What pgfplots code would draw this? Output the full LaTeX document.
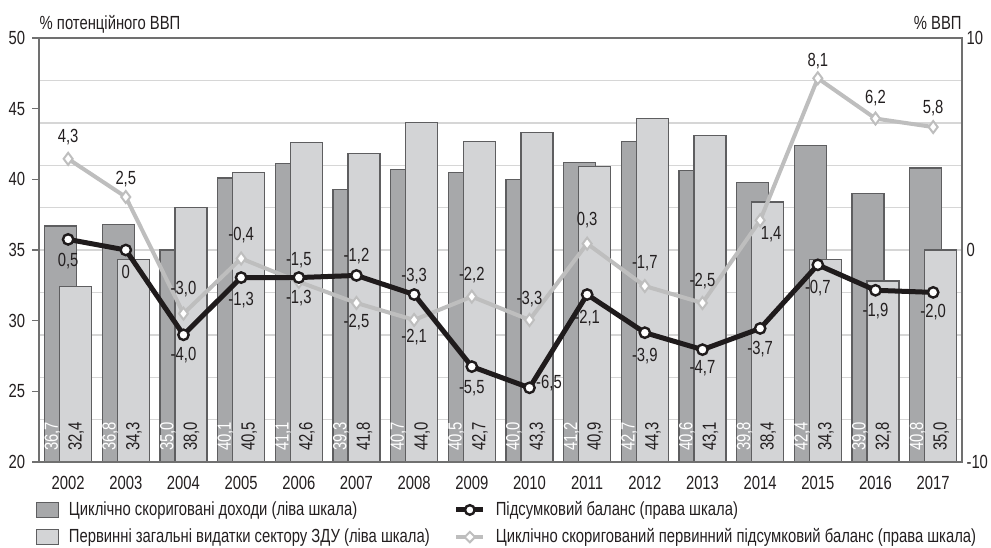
\documentclass[border=0pt]{standalone}
\usepackage{fontspec}
\setmainfont{Liberation Sans}[FakeStretch=0.78]
\usepackage{pgfplots}
\pgfplotsset{compat=1.18}
\usepackage{pgfplotstable}

\definecolor{darkbar}{HTML}{A7A8AA}
\definecolor{lightbar}{HTML}{D3D4D6}
\definecolor{baredge}{HTML}{5E5E60}
\definecolor{gridc}{HTML}{D6D6D6}
\definecolor{axisc}{HTML}{707070}
\definecolor{txt}{HTML}{231F20}
\definecolor{balc}{HTML}{1F1B1C}
\definecolor{cabc}{HTML}{BEBEBE}

\pgfplotstableread{
x year rev exp revl expl
0 2002 36.7 32.4 36,7 32,4
1 2003 36.8 34.3 36,8 34,3
2 2004 35.0 38.0 35,0 38,0
3 2005 40.1 40.5 40,1 40,5
4 2006 41.1 42.6 41,1 42,6
5 2007 39.3 41.8 39,3 41,8
6 2008 40.7 44.0 40,7 44,0
7 2009 40.5 42.7 40,5 42,7
8 2010 40.0 43.3 40,0 43,3
9 2011 41.2 40.9 41,2 40,9
10 2012 42.7 44.3 42,7 44,3
11 2013 40.6 43.1 40,6 43,1
12 2014 39.8 38.4 39,8 38,4
13 2015 42.4 34.3 42,4 34,3
14 2016 39.0 32.8 39,0 32,8
15 2017 40.8 35.0 40,8 35,0
}\bars

\pgfplotstableread{
x bal cab
0 0.5 4.3
1 0.0 2.5
2 -4.0 -3.0
3 -1.3 -0.4
4 -1.3 -1.5
5 -1.2 -2.5
6 -2.1 -3.3
7 -5.5 -2.2
8 -6.5 -3.3
9 -2.1 0.3
10 -3.9 -1.7
11 -4.7 -2.5
12 -3.7 1.4
13 -0.7 8.1
14 -1.9 6.2
15 -2.0 5.8
}\lines

\pgfplotstableread{
x y lab dx dy
0 0.5 0,5 0 -11
1 0 0 0 -11
2 -4.0 -4,0 0 -10
3 -1.3 -1,3 0 -11.5
4 -1.3 -1,3 0 -10.5
5 -1.2 -1,2 0 9.5
6 -2.1 -3,3 0 9
7 -5.5 -5,5 0 -11
8 -6.5 -6,5 9.75 2.5
9 -2.1 -2,1 0 -12
10 -3.9 -3,9 0 -11.5
11 -4.7 -4,7 0 -9.5
12 -3.7 -3,7 0 -10.5
13 -0.7 -0,7 0 -11.5
14 -1.9 -1,9 0 -10.5
15 -2.0 -2,0 0 -10
0 4.3 4,3 0 11
1 2.5 2,5 0 9
2 -3.0 -3,0 0 12.5
3 -0.4 -0,4 0 11.5
4 -1.5 -1,5 0 11
5 -2.5 -2,5 0 -9.5
6 -3.3 -2,1 0 -8.5
7 -2.2 -2,2 0 11
8 -3.3 -3,3 0 10.5
9 0.3 0,3 0 12
10 -1.7 -1,7 0 11.5
11 -2.5 -2,5 0 11
12 1.4 1,4 5.5 -7
13 8.1 8,1 0 8.5
14 6.2 6,2 0 10
15 5.8 5,8 0 9.5
}\labs

\begin{document}
\begin{tikzpicture}[font=\fontsize{9.5}{11.4}\selectfont]
\path[use as bounding box] (-19.65pt,-42.5pt) rectangle (475.85pt,231pt);
\begin{axis}[
  at={(0,0)}, anchor=south west,
  scale only axis, width=461.35pt, height=212pt,
  xmin=-0.5, xmax=15.5, ymin=20, ymax=50,
  xtick={0,...,15},
  xticklabels={2002,2003,2004,2005,2006,2007,2008,2009,2010,2011,2012,2013,2014,2015,2016,2017},
  ytick={20,25,30,35,40,45,50},
  yticklabels={20,25,30,35,40,45,50},
  ytick pos=left, tick align=outside, major tick length=3.5pt,
  y tick style={draw=axisc, line width=0.8pt},
  x tick style={draw=none},
  tick label style={text=txt},
  axis line style={draw=axisc, line width=1pt},
  extra y ticks={23,26,29,32,35,38,41,44,47},
  extra y tick labels={},
  extra y tick style={grid=major, major grid style={draw=gridc, line width=0.7pt}, major tick length=0pt},
]
\addplot[ybar, bar width=0.555, bar shift=-0.13, fill=darkbar, draw=baredge, line width=0.6pt]
  table[x=x, y=rev] \bars;
\addplot[ybar, bar width=0.555, bar shift=0.13, fill=lightbar, draw=baredge, line width=0.6pt]
  table[x=x, y=exp] \bars;
\addplot[draw=none, nodes near coords, point meta=explicit symbolic,
  nodes near coords style={rotate=90, anchor=west, inner xsep=5.5pt, text=white}]
  table[x expr=\thisrow{x}-0.27, y expr=20, meta=revl] \bars;
\addplot[draw=none, nodes near coords, point meta=explicit symbolic,
  nodes near coords style={rotate=90, anchor=west, inner xsep=5.5pt, text=txt}]
  table[x expr=\thisrow{x}+0.14, y expr=20, meta=expl] \bars;
\end{axis}

\begin{axis}[
  at={(0,0)}, anchor=south west,
  scale only axis, width=461.35pt, height=212pt,
  xmin=-0.5, xmax=15.5, ymin=-10, ymax=10,
  clip=false,
  xtick=\empty,
  ytick={-10,0,10}, yticklabels={-10,0,10},
  ytick pos=right, yticklabel pos=right,
  major tick length=0pt,
  yticklabel style={xshift=-1.25pt, text=txt},
  axis line style={draw=axisc, line width=1pt},
  legend columns=2,
  legend cell align=left,
  legend style={at={(axis description cs:0,0)}, anchor=north west,
    xshift=-5pt, yshift=-15.5pt, draw=none, fill=none,
    text=txt, row sep=1pt,
    /tikz/every odd column/.style={column sep=3pt},
    /tikz/every even column/.style={column sep=10pt}},
]
\addlegendimage{legend image code/.code={\draw[fill=darkbar, draw=baredge, line width=0.6pt] (0pt,-3.75pt) rectangle (11pt,3.75pt);}}
\addlegendentry{Циклічно скориговані доходи (ліва шкала)}
\addlegendimage{legend image code/.code={\draw[balc, line width=2.5pt] (0pt,0pt) -- (13.5pt,0pt); \draw[balc, line width=1.2pt, fill=white] (6.75pt,0pt) circle (2.4pt);}}
\addlegendentry{Підсумковий баланс (права шкала)}
\addlegendimage{legend image code/.code={\draw[fill=lightbar, draw=baredge, line width=0.6pt] (0pt,-3.75pt) rectangle (11pt,3.75pt);}}
\addlegendentry{Первинні загальні видатки сектору ЗДУ (ліва шкала)}
\addlegendimage{legend image code/.code={\draw[cabc, line width=2pt] (0pt,0pt) -- (13.5pt,0pt); \draw[cabc, line width=1pt, fill=white] (6.75pt,2.6pt) -- (9.35pt,0pt) -- (6.75pt,-2.6pt) -- (4.15pt,0pt) -- cycle;}}
\addlegendentry{Циклічно скоригований первинний підсумковий баланс (права шкала)}

\addplot[forget plot, cabc, line width=2pt, mark=diamond*, mark size=3pt,
  mark options={fill=white, draw=cabc, line width=1pt}]
  table[x=x, y=cab] \lines;
\addplot[forget plot, balc, line width=2.5pt, mark=*, mark size=2.6pt,
  mark options={fill=white, draw=balc, line width=1.2pt}]
  table[x=x, y=bal] \lines;
\addplot[forget plot, draw=none,
  visualization depends on={\thisrow{dx}\as\dxv},
  visualization depends on={\thisrow{dy}\as\dyv},
  nodes near coords, point meta=explicit symbolic,
  nodes near coords style={anchor=center, xshift=\dxv pt, yshift=\dyv pt, text=txt, inner sep=0pt}]
  table[x=x, y=y, meta=lab] \labs;

\node[anchor=base west, text=txt, inner sep=0pt] at (rel axis cs:0,1) [yshift=4.5pt] {\% потенційного ВВП};
\node[anchor=base east, text=txt, inner sep=0pt] at (rel axis cs:1,1) [yshift=4.5pt] {\% ВВП};
\end{axis}
\end{tikzpicture}
\end{document}
